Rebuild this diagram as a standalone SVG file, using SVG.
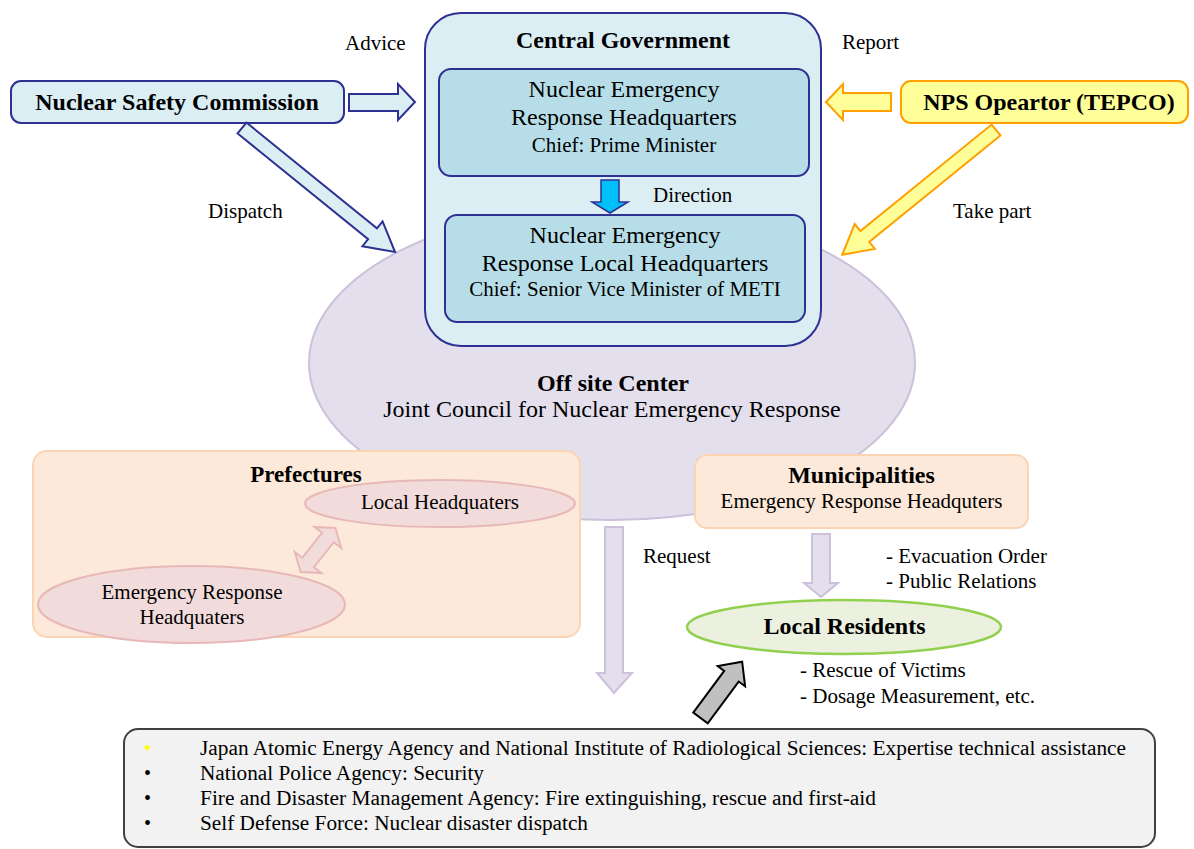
<svg xmlns="http://www.w3.org/2000/svg" width="1194" height="849" viewBox="0 0 1194 849">
<style>
text{font-family:"Liberation Serif","Times New Roman",serif;fill:#000}
.b{font-weight:bold;font-size:24px;text-anchor:middle}
.m{font-size:24px;text-anchor:middle}
.s{font-size:21px;text-anchor:middle}
.l{font-size:21px}
.bl{font-size:20px}
.blue{fill:#dbeef4;stroke:#2e3192;stroke-width:2}
.inner{fill:#b7dee8;stroke:#2e3192;stroke-width:2}
.yel{fill:#ffff99;stroke:#ffa000;stroke-width:2}
.lav{fill:#e4dfec;stroke:#ccc0da;stroke-width:2}
.peach{fill:#fde9d9;stroke:#fbd4b4;stroke-width:2}
.pink{fill:#f2dcdb;stroke:#e6b9b8;stroke-width:2}
</style>

<g id="offsite-center">
<ellipse class="lav" cx="612" cy="363" rx="303" ry="157"/>
<text class="b" x="613" y="391">Off site Center</text>
<text class="m" x="612" y="417">Joint Council for Nuclear Emergency Response</text>
</g>

<g id="central-government">
<rect class="blue" x="425" y="13" width="396" height="333" rx="36"/>
<text class="b" x="623" y="48">Central Government</text>
</g>

<g id="nerh">
<rect class="inner" x="439" y="69" width="370" height="107" rx="12"/>
<text class="m" x="624" y="97">Nuclear Emergency</text>
<text class="m" x="624" y="125">Response Headquarters</text>
<text class="s" x="624" y="152">Chief: Prime Minister</text>
</g>

<g id="nerlh">
<rect class="inner" x="445" y="215" width="360" height="107" rx="12"/>
<text class="m" x="625" y="243">Nuclear Emergency</text>
<text class="m" x="625" y="271">Response Local Headquarters</text>
<text class="s" x="625" y="296">Chief: Senior Vice Minister of METI</text>
</g>

<g id="nsc">
<rect class="blue" x="11" y="81" width="333" height="42" rx="10"/>
<text class="b" x="177" y="110">Nuclear Safety Commission</text>
</g>

<g id="nps">
<rect class="yel" x="901" y="81" width="287" height="42" rx="10"/>
<text class="b" x="1049" y="110">NPS Opeartor (TEPCO)</text>
</g>

<g id="prefectures">
<rect class="peach" x="33" y="451" width="547" height="186" rx="14"/>
<text class="b" x="306" y="482" style="font-size:23px">Prefectures</text>
</g>

<g id="local-hq">
<ellipse class="pink" cx="440" cy="503.5" rx="135" ry="23.5"/>
<text class="s" x="440" y="509">Local Headquaters</text>
</g>

<g id="pref-erh">
<ellipse class="pink" cx="191.5" cy="604.5" rx="153.5" ry="38.5"/>
<text class="s" x="192" y="599">Emergency Response</text>
<text class="s" x="192" y="624">Headquaters</text>
</g>

<g id="municipalities">
<rect class="peach" x="695" y="455" width="333" height="73" rx="12"/>
<text class="b" x="861.5" y="483">Municipalities</text>
<text class="s" x="861.5" y="508">Emergency Response Headquters</text>
</g>

<g id="local-residents">
<ellipse cx="844" cy="627" rx="157" ry="27" fill="#ebf1de" stroke="#92d050" stroke-width="2.5"/>
<text class="b" x="844.5" y="634">Local Residents</text>
</g>

<g id="agencies">
<rect x="124" y="729" width="1031" height="118" rx="14" fill="#f2f2f2" stroke="#404040" stroke-width="2"/>
<text class="bl" x="144" y="755" style="fill:#ffff00">•</text>
<text class="bl" x="144" y="780">•</text>
<text class="bl" x="144" y="805">•</text>
<text class="bl" x="144" y="830">•</text>
<text class="bl" x="200" y="755" textLength="926" lengthAdjust="spacingAndGlyphs">Japan Atomic Energy Agency and National Institute of Radiological Sciences: Expertise technical assistance</text>
<text class="bl" x="200" y="780" textLength="284" lengthAdjust="spacingAndGlyphs">National Police Agency: Security</text>
<text class="bl" x="200" y="805" textLength="676" lengthAdjust="spacingAndGlyphs">Fire and Disaster Management Agency: Fire extinguishing, rescue and first-aid</text>
<text class="bl" x="200" y="830" textLength="388" lengthAdjust="spacingAndGlyphs">Self Defense Force: Nuclear disaster dispatch</text>
</g>

<g id="connectors">
<polygon class="blue" points="349,94 398,94 398,84 415,102 398,120 398,111 349,111"/>
<polygon class="yel" points="891,93 843,93 843,84 826,102 843,120 843,111 891,111"/>
<polygon class="blue" transform="translate(242,128) rotate(39.02)" points="0,-7 168,-7 168,-16 197,0 168,16 168,7 0,7"/>
<polygon class="yel" transform="translate(996,130) rotate(140.94)" points="0,-7 169,-7 169,-16 198,0 169,16 169,7 0,7"/>
<polygon points="601,180 619,180 619,202 628,202 610,213 592,202 601,202" fill="#00c0f8" stroke="#2e3192" stroke-width="1.5"/>
<polygon class="pink" transform="translate(318,550) rotate(-51.7)" points="-28,0 -16,-17 -16,-7.5 16,-7.5 16,-17 28,0 16,17 16,7.5 -16,7.5 -16,17"/>
<polygon class="lav" points="605,527 623,527 623,673 632,673 614,693 597,673 605,673"/>
<polygon class="lav" points="812,534 830,534 830,583 838,583 821,597 804,583 812,583"/>
<polygon transform="translate(700.5,718) rotate(-53.5)" points="0,-9 52,-9 52,-17 70,0 52,17 52,9 0,9" fill="#c0c0c0" stroke="#000" stroke-width="2"/>
</g>

<g id="labels">
<text class="l" x="345" y="50">Advice</text>
<text class="l" x="842" y="49">Report</text>
<text class="l" x="208" y="218">Dispatch</text>
<text class="l" x="953" y="218">Take part</text>
<text class="l" x="653" y="202">Direction</text>
<text class="l" x="643" y="563">Request</text>
<text class="l" x="886" y="563">- Evacuation Order</text>
<text class="l" x="886" y="588">- Public Relations</text>
<text class="l" x="800" y="677">- Rescue of Victims</text>
<text class="l" x="800" y="703">- Dosage Measurement, etc.</text>
</g>
</svg>
